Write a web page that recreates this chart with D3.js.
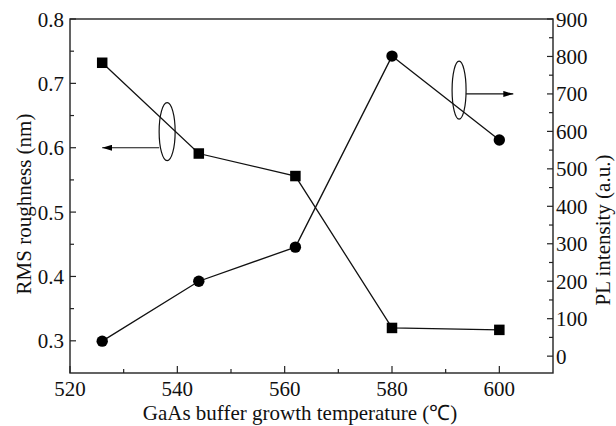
<!DOCTYPE html>
<html><head><meta charset="utf-8">
<script src="https://cdn.jsdelivr.net/npm/d3@7"></script>
<style>body{margin:0;background:#fff}svg{display:block}</style>
</head><body><div id="c"></div>
<script>
const temps = [526, 544, 562, 580, 600];
const rms = [0.732, 0.591, 0.556, 0.320, 0.317];
const pl = [40, 200, 291, 801, 577];
const xTicks = [520, 540, 560, 580, 600];
const yLeftTicks = [0.3, 0.4, 0.5, 0.6, 0.7, 0.8];
const yRightTicks = [0, 100, 200, 300, 400, 500, 600, 700, 800, 900];
const xTitle = "GaAs buffer growth temperature (\u2103)";
const yLeftTitle = "RMS roughness (nm)";
const yRightTitle = "PL intensity (a.u.)";

const W = 616, H = 426;
const m = {l: 70, r: 63, t: 19, b: 53};
const svg = d3.select("#c").append("svg").attr("width", W).attr("height", H)
  .attr("font-family", "'Times New Roman', 'Liberation Serif', Times, serif").style("font-family", "'Times New Roman', 'Liberation Serif', Times, serif");
const x = d3.scaleLinear().domain([520, 610]).range([m.l, W - m.r]);
const yL = d3.scaleLinear().domain([0.25, 0.8]).range([H - m.b, m.t]);
const yR = d3.scaleLinear().domain([-45, 900]).range([H - m.b, m.t]);
const g = svg.append("g").attr("fill", "#111");
const fs = 21;

g.append("rect").attr("x", m.l).attr("y", m.t).attr("width", W - m.r - m.l).attr("height", H - m.b - m.t)
  .attr("fill", "none").attr("stroke", "#222").attr("stroke-width", 1.4);

const xMinor = d3.range(530, 610, 20);
xTicks.forEach(v => {
  g.append("line").attr("x1", x(v)).attr("x2", x(v)).attr("y1", H - m.b).attr("y2", H - m.b - 7).attr("stroke", "#222").attr("stroke-width", 1.2);
  g.append("text").attr("x", x(v)).attr("y", 395.5).attr("text-anchor", "middle").attr("font-size", fs).text(v);
});
xMinor.forEach(v => {
  g.append("line").attr("x1", x(v)).attr("x2", x(v)).attr("y1", H - m.b).attr("y2", H - m.b - 4).attr("stroke", "#222").attr("stroke-width", 1.2);
});
yLeftTicks.forEach(v => {
  g.append("line").attr("x1", m.l).attr("x2", m.l + 6).attr("y1", yL(v)).attr("y2", yL(v)).attr("stroke", "#222").attr("stroke-width", 1.2);
  g.append("text").attr("x", 64).attr("y", yL(v) + 7.5).attr("text-anchor", "end").attr("font-size", fs).text(v.toFixed(1));
});
d3.range(0.35, 0.8, 0.1).forEach(v => {
  g.append("line").attr("x1", m.l).attr("x2", m.l + 4).attr("y1", yL(v)).attr("y2", yL(v)).attr("stroke", "#222").attr("stroke-width", 1.2);
});
const xr = W - m.r;
yRightTicks.forEach(v => {
  g.append("line").attr("x1", xr).attr("x2", xr - 6).attr("y1", yR(v)).attr("y2", yR(v)).attr("stroke", "#222").attr("stroke-width", 1.2);
  g.append("text").attr("x", 556).attr("y", yR(v) + 7.5).attr("text-anchor", "start").attr("font-size", fs).text(v);
});
d3.range(50, 900, 100).forEach(v => {
  g.append("line").attr("x1", xr).attr("x2", xr - 4).attr("y1", yR(v)).attr("y2", yR(v)).attr("stroke", "#222").attr("stroke-width", 1.2);
});

g.append("text").attr("x", 300).attr("y", 420).attr("text-anchor", "middle").attr("font-size", fs).text(xTitle);
g.append("text").attr("transform", `translate(31,204) rotate(-90)`).attr("text-anchor", "middle").attr("font-size", fs).text(yLeftTitle);
g.append("text").attr("transform", `translate(610,230) rotate(-90)`).attr("text-anchor", "middle").attr("font-size", fs).text(yRightTitle);

const lineL = d3.line().x((d, i) => x(temps[i])).y(d => yL(d));
const lineR = d3.line().x((d, i) => x(temps[i])).y(d => yR(d));
g.append("path").attr("d", lineL(rms)).attr("fill", "none").attr("stroke", "#111").attr("stroke-width", 1.3);
g.append("path").attr("d", lineR(pl)).attr("fill", "none").attr("stroke", "#111").attr("stroke-width", 1.3);
const s = 10.5;
rms.forEach((v, i) => {
  g.append("rect").attr("x", x(temps[i]) - s / 2).attr("y", yL(v) - s / 2).attr("width", s).attr("height", s).attr("fill", "#000");
});
pl.forEach((v, i) => {
  g.append("circle").attr("cx", x(temps[i])).attr("cy", yR(v)).attr("r", 5.7).attr("fill", "#000");
});

const defs = svg.append("defs");
defs.append("marker").attr("id", "ah").attr("viewBox", "0 0 10 6").attr("refX", 10).attr("refY", 3)
  .attr("markerWidth", 10).attr("markerHeight", 6).attr("markerUnits", "userSpaceOnUse").attr("orient", "auto")
  .append("path").attr("d", "M0,0 L10,3 L0,6 Z").attr("fill", "#000");
const e1 = {cx: x(538.1), cy: yL(0.625)};
g.append("ellipse").attr("cx", e1.cx).attr("cy", e1.cy).attr("rx", 8).attr("ry", 29).attr("fill", "none").attr("stroke", "#111").attr("stroke-width", 1.2);
g.append("line").attr("x1", e1.cx - 8).attr("x2", x(526)).attr("y1", yL(0.6)).attr("y2", yL(0.6)).attr("stroke", "#111").attr("stroke-width", 1.2).attr("marker-end", "url(#ah)");
const e2 = {cx: x(592.5), cy: yR(710)};
g.append("ellipse").attr("cx", e2.cx).attr("cy", e2.cy).attr("rx", 7).attr("ry", 29).attr("fill", "none").attr("stroke", "#111").attr("stroke-width", 1.2);
g.append("line").attr("x1", e2.cx + 7).attr("x2", x(602.6)).attr("y1", yR(700)).attr("y2", yR(700)).attr("stroke", "#111").attr("stroke-width", 1.2).attr("marker-end", "url(#ah)");
</script></body></html>
